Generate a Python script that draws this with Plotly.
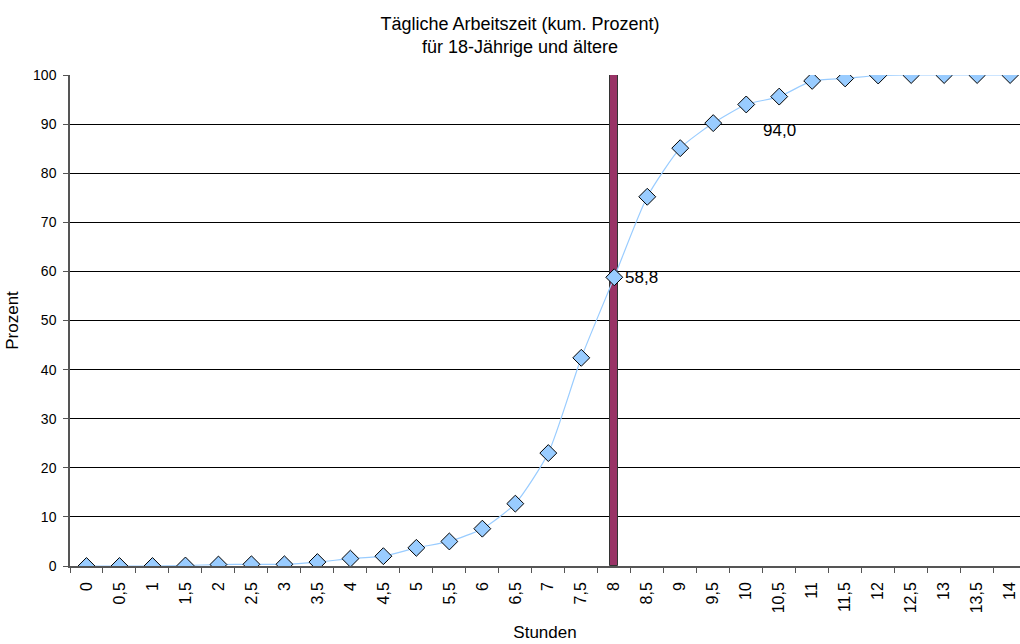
import plotly.graph_objects as go

hours = [0, 0.5, 1, 1.5, 2, 2.5, 3, 3.5, 4, 4.5, 5, 5.5, 6, 6.5, 7, 7.5, 8, 8.5, 9, 9.5, 10, 10.5, 11, 11.5, 12, 12.5, 13, 13.5, 14]
tick_labels = [str(h).replace(".", ",") if h % 1 else str(int(h)) for h in hours]
cum_percent = [0, 0, 0, 0.1, 0.3, 0.35, 0.35, 0.8, 1.5, 2.0, 3.7, 5.0, 7.6, 12.7, 23.0, 42.4, 58.8, 75.2, 85.1, 90.2, 94.0, 95.6, 98.8, 99.3, 99.9, 100, 100, 100, 100]
marker_x = [8]
marker_y = [100]

font = "Liberation Sans, Arial, sans-serif"

fig = go.Figure()
fig.add_trace(go.Bar(x=marker_x, y=marker_y, width=0.12,
                     marker=dict(color="#993366", line=dict(color="#333333", width=1)),
                     showlegend=False, hoverinfo="skip"))
fig.add_trace(go.Scatter(x=hours, y=cum_percent, mode="lines+markers",
                         line=dict(color="#99CCFF", width=1.2, shape="spline", smoothing=0.6),
                         marker=dict(symbol="diamond", size=13, color="#99CCFF",
                                     line=dict(color="#000000", width=1)),
                         showlegend=False))

fig.add_annotation(x=8, y=58.8, text="58,8", showarrow=False, xanchor="left", xshift=9,
                   font=dict(family=font, size=17, color="#000"))
fig.add_annotation(x=10.5, y=88.6, text="94,0", showarrow=False, xanchor="center",
                   font=dict(family=font, size=17, color="#000"))

fig.update_layout(
    width=1020, height=644,
    margin=dict(l=70, r=0, t=75, b=78),
    paper_bgcolor="white", plot_bgcolor="white",
    font=dict(family=font, size=13, color="#000"),
    title=dict(text="Tägliche Arbeitszeit (kum. Prozent)<br>für 18-Jährige und ältere",
               x=520/1020, xanchor="center", yref="container", y=1 - 30/644, yanchor="middle",
               font=dict(family=font, size=18, color="#000")),
    bargap=0,
)
fig.update_xaxes(
    range=[-0.25, 14.15], tickmode="array", tickvals=hours, ticktext=tick_labels,
    tickangle=-90, ticks="", showgrid=False, zeroline=False,
    showline=True, linecolor="#555555", linewidth=1.5,
    minor=dict(tickmode="linear", tick0=0.25, dtick=0.5, ticks="outside", ticklen=5,
               tickcolor="#555555", showgrid=False),
    ticklabelstandoff=8,
    title=dict(text="Stunden", font=dict(family=font, size=17), standoff=14),
    tickfont=dict(family=font, size=16),
)
fig.update_yaxes(
    range=[0, 100], tickmode="linear", tick0=0, dtick=10,
    ticks="outside", ticklen=5, tickcolor="#555555",
    showgrid=True, gridcolor="#000000", gridwidth=1, zeroline=False,
    showline=True, linecolor="#555555", linewidth=1.5,
    ticklabelstandoff=4,
    title=dict(text="Prozent", font=dict(family=font, size=17), standoff=10),
    tickfont=dict(family=font, size=14),
)

fig.write_html("out.html")
